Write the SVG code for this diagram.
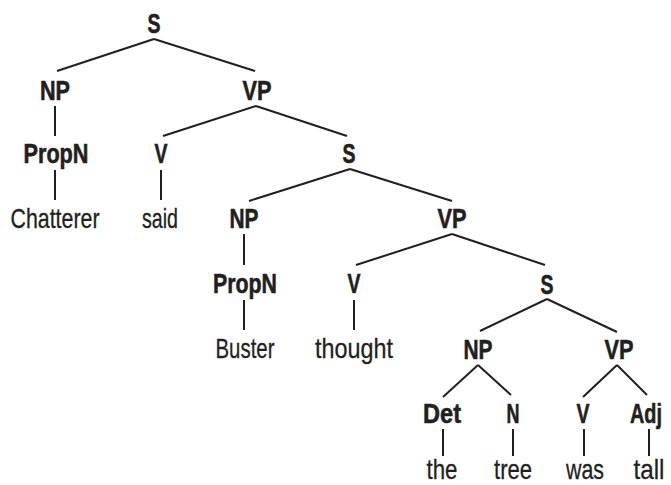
<svg xmlns="http://www.w3.org/2000/svg" width="671" height="485" viewBox="0 0 671 485">
<style>
text{font-family:"Liberation Sans Narrow","Liberation Sans",Arial,sans-serif;font-size:28px;fill:#231f20;text-anchor:middle;stroke:#231f20;stroke-width:0.3}
.c{font-weight:bold;stroke-width:0.6}
#edges line{stroke:#231f20;stroke-width:2;stroke-linecap:butt}
</style>
<rect width="671" height="485" fill="#ffffff"/>
<g id="edges">
<line x1="154" y1="39" x2="57" y2="71"/>
<line x1="154" y1="39" x2="255" y2="71"/>
<line x1="55" y1="106" x2="55" y2="136"/>
<line x1="55" y1="170" x2="55" y2="200"/>
<line x1="256" y1="106" x2="163" y2="136"/>
<line x1="256" y1="106" x2="347" y2="136"/>
<line x1="161" y1="170" x2="161" y2="200"/>
<line x1="350" y1="169" x2="249" y2="201"/>
<line x1="350" y1="169" x2="452" y2="201"/>
<line x1="244" y1="234" x2="244" y2="265"/>
<line x1="452" y1="234" x2="356" y2="265"/>
<line x1="452" y1="234" x2="545" y2="265"/>
<line x1="244" y1="300" x2="244" y2="330"/>
<line x1="354" y1="300" x2="354" y2="330"/>
<line x1="547" y1="299" x2="480" y2="331"/>
<line x1="547" y1="299" x2="617" y2="332"/>
<line x1="478" y1="365" x2="443" y2="397"/>
<line x1="478" y1="365" x2="511" y2="395"/>
<line x1="617" y1="365" x2="583" y2="397"/>
<line x1="617" y1="365" x2="647" y2="395"/>
<line x1="443" y1="429" x2="443" y2="456"/>
<line x1="513" y1="429" x2="513" y2="456"/>
<line x1="584" y1="429" x2="584" y2="456"/>
<line x1="649" y1="429" x2="649" y2="456"/>
</g>
<g id="n_S0"><text class="c" x="154" y="33" textLength="13" lengthAdjust="spacingAndGlyphs">S</text></g>
<g id="n_NP1"><text class="c" x="55" y="100" textLength="30" lengthAdjust="spacingAndGlyphs">NP</text></g>
<g id="n_VP1"><text class="c" x="257" y="100" textLength="29" lengthAdjust="spacingAndGlyphs">VP</text></g>
<g id="n_PropN1"><text class="c" x="56" y="163" textLength="65" lengthAdjust="spacingAndGlyphs">PropN</text></g>
<g id="n_V1"><text class="c" x="161" y="163" textLength="13" lengthAdjust="spacingAndGlyphs">V</text></g>
<g id="n_S2"><text class="c" x="349" y="163" textLength="13" lengthAdjust="spacingAndGlyphs">S</text></g>
<g id="n_Chatterer"><text x="55" y="228" textLength="89" lengthAdjust="spacingAndGlyphs">Chatterer</text></g>
<g id="n_said"><text x="160" y="228" textLength="36" lengthAdjust="spacingAndGlyphs">said</text></g>
<g id="n_NP2"><text class="c" x="244" y="228" textLength="29" lengthAdjust="spacingAndGlyphs">NP</text></g>
<g id="n_VP2"><text class="c" x="452" y="228" textLength="29" lengthAdjust="spacingAndGlyphs">VP</text></g>
<g id="n_PropN2"><text class="c" x="245" y="293" textLength="64" lengthAdjust="spacingAndGlyphs">PropN</text></g>
<g id="n_V2"><text class="c" x="354" y="293" textLength="13" lengthAdjust="spacingAndGlyphs">V</text></g>
<g id="n_S3"><text class="c" x="547" y="294" textLength="13" lengthAdjust="spacingAndGlyphs">S</text></g>
<g id="n_Buster"><text x="245" y="358" textLength="59" lengthAdjust="spacingAndGlyphs">Buster</text></g>
<g id="n_thought"><text x="354" y="358" textLength="78" lengthAdjust="spacingAndGlyphs">thought</text></g>
<g id="n_NP3"><text class="c" x="478" y="359" textLength="29" lengthAdjust="spacingAndGlyphs">NP</text></g>
<g id="n_VP3"><text class="c" x="619" y="359" textLength="29" lengthAdjust="spacingAndGlyphs">VP</text></g>
<g id="n_Det"><text class="c" x="442" y="423" textLength="38" lengthAdjust="spacingAndGlyphs">Det</text></g>
<g id="n_N"><text class="c" x="513" y="423" textLength="13" lengthAdjust="spacingAndGlyphs">N</text></g>
<g id="n_V3"><text class="c" x="583" y="423" textLength="13" lengthAdjust="spacingAndGlyphs">V</text></g>
<g id="n_Adj"><text class="c" x="646" y="423" textLength="32" lengthAdjust="spacingAndGlyphs">Adj</text></g>
<g id="n_the"><text x="442" y="479" textLength="31" lengthAdjust="spacingAndGlyphs">the</text></g>
<g id="n_tree"><text x="513" y="479" textLength="38" lengthAdjust="spacingAndGlyphs">tree</text></g>
<g id="n_was"><text x="585" y="479" textLength="38" lengthAdjust="spacingAndGlyphs">was</text></g>
<g id="n_tall"><text x="649" y="479" textLength="31" lengthAdjust="spacingAndGlyphs">tall</text></g>
</svg>
